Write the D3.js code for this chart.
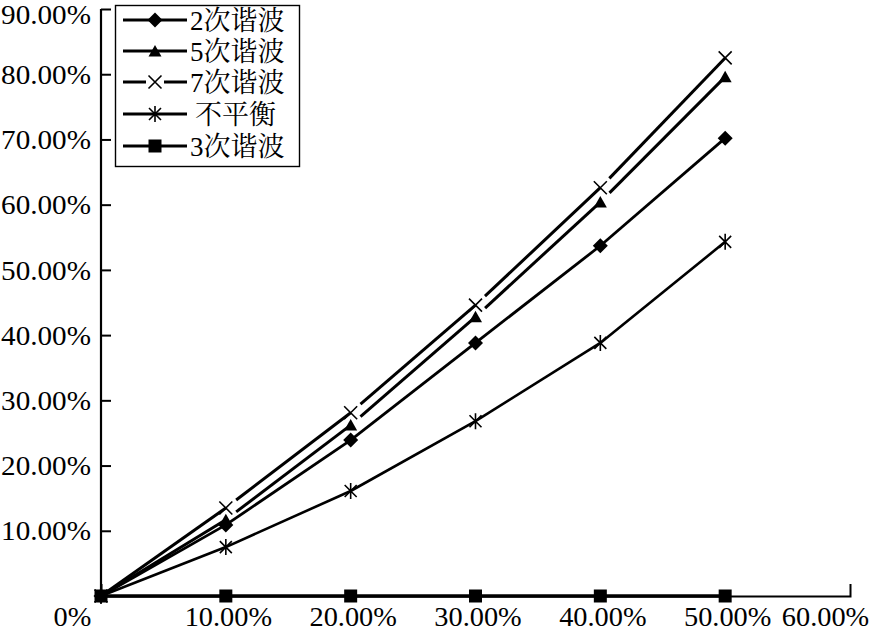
<!DOCTYPE html>
<html><head><meta charset="utf-8">
<script src="https://cdn.jsdelivr.net/npm/d3@7"></script>
<style>
html,body{margin:0;padding:0;background:#fff;}
svg{display:block;}
text{font-family:"Liberation Serif","Times New Roman","Noto Serif CJK SC","Noto Sans CJK SC",serif;fill:#000;}
</style></head>
<body>
<script>
// ---- data ----
const xValues = [0, 0.1, 0.2, 0.3, 0.4, 0.5];
const seriesNames = ["2次谐波", "5次谐波", "7次谐波", "不平衡", "3次谐波"];
const h2 = [0, 0.109, 0.239, 0.388, 0.537, 0.702];
const h5 = [0, 0.117, 0.262, 0.428, 0.604, 0.796];
const h7 = [0, 0.135, 0.281, 0.446, 0.626, 0.825];
const unbalance = [0, 0.075, 0.161, 0.268, 0.388, 0.543];
const h3 = [0, 0, 0, 0, 0, 0];
const xTicks = [0, 0.1, 0.2, 0.3, 0.4, 0.5, 0.6];
const xTickLabels = ["0%", "10.00%", "20.00%", "30.00%", "40.00%", "50.00%", "60.00%"];
const yTicks = [0.1, 0.2, 0.3, 0.4, 0.5, 0.6, 0.7, 0.8, 0.9];
const yTickLabels = ["10.00%", "20.00%", "30.00%", "40.00%", "50.00%", "60.00%", "70.00%", "80.00%", "90.00%"];

const W = 880, H = 632;
const svg = d3.select("body").append("svg").attr("width", W).attr("height", H);

const x = d3.scaleLinear().domain([0, 0.6]).range([101, 850]);
const y = d3.scaleLinear().domain([0, 0.9]).range([596, 9]);

const FS = 27;
function stretch(k) {
  return sel => sel.each(function () {
    const L = this.getComputedTextLength();
    d3.select(this).attr("textLength", L * k).attr("lengthAdjust", "spacingAndGlyphs");
  });
}

// y axis
const yAxis = d3.axisLeft(y).tickValues(yTicks)
  .tickFormat((d, i) => yTickLabels[i]).tickSizeInner(-10).tickSizeOuter(0).tickPadding(10);
const gy = svg.append("g").attr("transform", `translate(${x(0)},0)`).call(yAxis);
gy.select(".domain").attr("d", `M0,${y(0.9)}V${y(0)}`).attr("stroke", "#000").attr("stroke-width", 2.2);
gy.selectAll(".tick line").attr("stroke", "#000").attr("stroke-width", 2);
gy.selectAll("text").attr("font-size", FS).attr("font-family", "Liberation Serif")
  .attr("dy", (d, i) => i === yTicks.length - 1 ? "0.52em" : "0.34em").call(stretch(1.08));

// x axis
const xAxis = d3.axisBottom(x).tickValues(xTicks)
  .tickFormat((d, i) => xTickLabels[i]).tickSizeInner(0).tickSizeOuter(-12).tickPadding(11);
const gx = svg.append("g").attr("transform", `translate(0,${y(0)})`).call(xAxis);
gx.select(".domain").attr("stroke", "#000").attr("stroke-width", 2);
gx.selectAll("text").attr("font-size", FS).attr("font-family", "Liberation Serif")
  .attr("dx", (d, i) => i === 0 ? -29 : (i === xTicks.length - 1 ? -25 : 2)).call(stretch(1.05));

// markers
function markerPath(type) {
  switch (type) {
    case "diamond": return "M0,-7.5L7.5,0L0,7.5L-7.5,0Z";
    case "triangle": return "M0,-6L6.5,5.5L-6.5,5.5Z";
    case "square": return "M-6.5,-6.5H6.5V6.5H-6.5Z";
    case "x": return "M-6.5,-6.5L6.5,6.5M6.5,-6.5L-6.5,6.5";
    case "star": return "M-6,-6L6,6M6,-6L-6,6M0,-8V8";
  }
}
const series = [
  {name: seriesNames[0], values: h2, marker: "diamond", gap: 0, lw: 2.8},
  {name: seriesNames[1], values: h5, marker: "triangle", gap: 13, lw: 3},
  {name: seriesNames[2], values: h7, marker: "x", gap: 13, lw: 3},
  {name: seriesNames[3], values: unbalance, marker: "star", gap: 0, lw: 2.6},
  {name: seriesNames[4], values: h3, marker: "square", gap: 0, lw: 3.6}
];

const plot = svg.append("g");
const line = d3.line().x(d => d[0]).y(d => d[1]);

series.forEach(s => {
  const pts = xValues.map((xv, i) => [x(xv), y(s.values[i])]);
  const g = plot.append("g");
  for (let i = 0; i < pts.length - 1; i++) {
    let a = pts[i].slice(), b = pts[i + 1];
    if (s.gap && i > 0) {
      const dx = b[0] - a[0], dy = b[1] - a[1], L = Math.hypot(dx, dy);
      a = [a[0] + dx / L * s.gap, a[1] + dy / L * s.gap];
    }
    g.append("path").attr("d", line([a, b])).attr("fill", "none")
      .attr("stroke", "#000").attr("stroke-width", s.lw);
  }
  const filled = !(s.marker === "x" || s.marker === "star");
  g.selectAll("path.m").data(pts).enter().append("path").attr("class", "m")
    .attr("transform", d => `translate(${d[0]},${d[1]})`)
    .attr("d", markerPath(s.marker))
    .attr("fill", filled ? "#000" : "none")
    .attr("stroke", "#000").attr("stroke-width", filled ? 0 : 1.6);
});

// legend
const lg = svg.append("g");
lg.append("rect").attr("x", 115.5).attr("y", 5.5).attr("width", 184).attr("height", 161)
  .attr("fill", "#fff").attr("stroke", "#000").attr("stroke-width", 1.4);
const rowY = [20, 51, 82, 114, 146];
series.forEach((s, i) => {
  const cy = rowY[i];
  if (s.marker === "x") {
    lg.append("path").attr("d", `M123,${cy}H146M164,${cy}H187`).attr("stroke", "#000").attr("stroke-width", 3);
  } else {
    lg.append("path").attr("d", `M123,${cy}H187`).attr("stroke", "#000").attr("stroke-width", 3);
  }
  const filled = !(s.marker === "x" || s.marker === "star");
  lg.append("path").attr("transform", `translate(155,${cy})`).attr("d", markerPath(s.marker))
    .attr("fill", filled ? "#000" : "none").attr("stroke", "#000").attr("stroke-width", filled ? 0 : 1.6);
  lg.append("text").attr("x", s.marker === "star" ? 195 : 190).attr("y", cy).attr("dy", "0.36em")
    .attr("font-size", FS).text(s.name);
});
</script>
</body></html>
